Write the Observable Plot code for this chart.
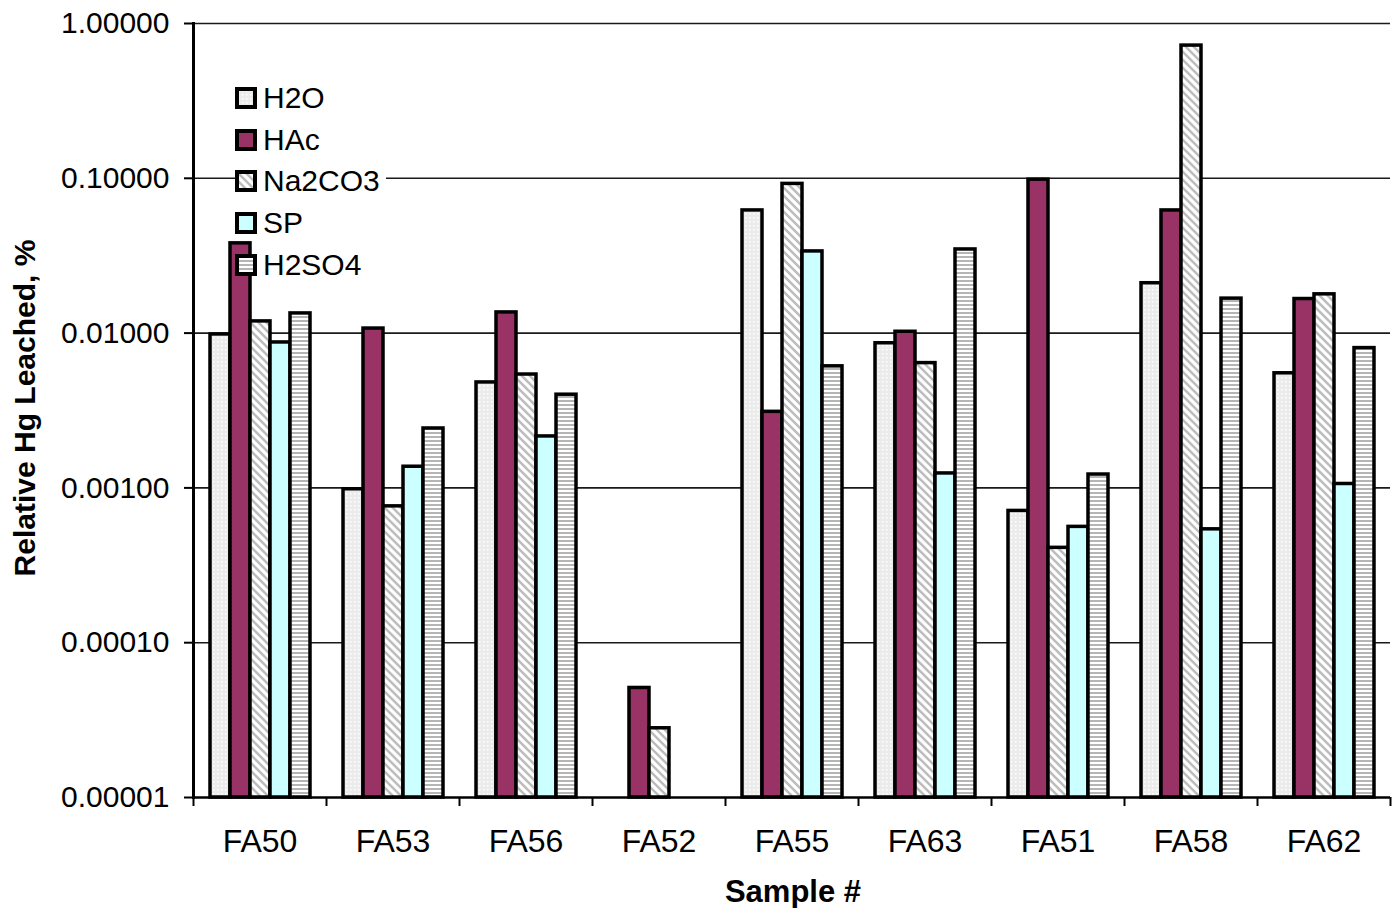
<!DOCTYPE html>
<html>
<head>
<meta charset="utf-8">
<script src="https://cdn.jsdelivr.net/npm/d3@7"></script>
<script src="https://cdn.jsdelivr.net/npm/@observablehq/plot@0.6"></script>
<style>
  body { margin: 0; background: #fff; font-family: "Liberation Sans", Arial, sans-serif; }
  #wrap { position: relative; width: 1393px; height: 908px; overflow: hidden; background: #fff; }
  #wrap > svg.chart { position: absolute; left: 0; top: 0; }
  #legend { position: absolute; left: 237px; top: 77px; }
  #legend .lg-swatches { font-family: "Liberation Sans", Arial, sans-serif; font-size: 30px; color: #000; margin: 0; }
  #legend .lg-swatch { height: 41.75px; display: flex; align-items: center; padding: 0; margin: 0; }
  #legend .lg-swatch svg { overflow: visible; margin-right: 8px; }
  #legend .lg-swatch svg rect { stroke: #000; stroke-width: 4px; }
  #legend .lg-swatch:nth-of-type(3) { background: #fff; padding-right: 6px; }
  .ytitle { position: absolute; left: 25px; top: 408px; transform: translate(-50%, -50%) rotate(-90deg);
            font-weight: bold; font-size: 30px; white-space: nowrap; color: #000; }
  .xtitle { position: absolute; left: 793px; top: 892px; transform: translate(-50%, -50%);
            font-weight: bold; font-size: 31px; white-space: nowrap; color: #000; }
</style>
</head>
<body>
<svg width="0" height="0" style="position:absolute">
  <defs>
    <pattern id="p-h2o" patternUnits="userSpaceOnUse" width="4" height="4">
      <rect width="4" height="4" fill="#ebebeb"/>
      <rect x="1" y="1" width="1.5" height="1.5" fill="#ffffff"/>
    </pattern>
    <pattern id="p-na" patternUnits="userSpaceOnUse" width="8" height="8">
      <rect width="8" height="8" fill="#ffffff"/>
      <path d="M-2,-2L10,10M-2,6L2,10M6,-2L10,2" stroke="#bdbdbd" stroke-width="2.5"/>
    </pattern>
    <pattern id="p-h2so4" patternUnits="userSpaceOnUse" width="4" height="4">
      <rect width="4" height="4" fill="#ffffff"/>
      <rect y="0" width="4" height="2" fill="#b5b5b5"/>
    </pattern>
  </defs>
</svg>
<div id="wrap">
  <div class="ytitle">Relative Hg Leached, %</div>
  <div class="xtitle">Sample #</div>
</div>
<script>
// ---- data ----
const categories = ["FA50", "FA53", "FA56", "FA52", "FA55", "FA63", "FA51", "FA58", "FA62"];
const series = ["H2O", "HAc", "Na2CO3", "SP", "H2SO4"];
const h2o    = [0.0098, 0.00098, 0.0048, null,     0.062,  0.0086, 0.00071, 0.021,   0.0055];
const hac    = [0.038,  0.0107,  0.0136, 0.000051, 0.0031, 0.0102, 0.098,   0.062,   0.0166];
const na2co3 = [0.0119, 0.00076, 0.0054, 0.000028, 0.092,  0.0064, 0.00041, 0.72,    0.0178];
const sp     = [0.0087, 0.00137, 0.00215, null,    0.0337, 0.00124, 0.00056, 0.00054, 0.00106];
const h2so4  = [0.0134, 0.00242, 0.0040, null,     0.0061, 0.0347, 0.00122, 0.0167,  0.0080];
const yTicks = [0.00001, 0.0001, 0.001, 0.01, 0.1, 1];

// ---- styling ----
const fills = ["url(#p-h2o)", "#993366", "url(#p-na)", "#ccffff", "url(#p-h2so4)"];
const W = 1393, H = 908, mL = 193, mR = 3, mT = 23, mB = 111;
const step = (W - mL - mR) / categories.length;

const valuesBySeries = [h2o, hac, na2co3, sp, h2so4];
const rows = categories.flatMap((c, i) =>
  series.map((s, j) => ({cat: c, series: s, value: valuesBySeries[j][i]}))
).filter(d => d.value != null);

const chart = Plot.plot({
  width: W, height: H,
  marginLeft: mL, marginRight: mR, marginTop: mT, marginBottom: mB,
  style: {fontFamily: "'Liberation Sans', Arial, sans-serif", fontSize: "30px", color: "#000", background: "transparent"},
  fx: {domain: categories, padding: 0, label: null},
  x: {domain: series, paddingInner: 0, paddingOuter: 0.667, axis: null},
  y: {type: "log", domain: [yTicks[0], yTicks[yTicks.length - 1]], label: null},
  color: {domain: series, range: fills},
  marks: [
    Plot.gridY(yTicks.slice(1), {stroke: "#1a1a1a", strokeOpacity: 1, strokeWidth: 1.6}),
    Plot.barY(rows, {fx: "cat", x: "series", y1: yTicks[0], y2: "value", fill: "series", stroke: "#000", strokeWidth: 3.5}),
    Plot.ruleY([yTicks[0]], {stroke: "#000", strokeWidth: 2.5}),
    Plot.frame({anchor: "left", facetAnchor: "left", stroke: "#000", strokeWidth: 3}),
    Plot.axisY({ticks: yTicks, tickFormat: d3.format(".5f"), tickSize: 9, tickPadding: 15, fontSize: 30, strokeWidth: 2, label: null}),
    Plot.axisFx({anchor: "bottom", tickSize: 0, tickPadding: 32, fontSize: 32, label: null}),
    Plot.axisFx({anchor: "bottom", tickSize: 9, fill: "none", dx: -step / 2, strokeWidth: 2, label: null}),
    Plot.axisFx({anchor: "bottom", ticks: [categories[categories.length - 1]], tickSize: 9, fill: "none", dx: step / 2, strokeWidth: 2, label: null})
  ]
});
chart.classList.add("chart");
const wrap = document.getElementById("wrap");
wrap.insertBefore(chart, wrap.firstChild);

const legend = Plot.legend({
  color: {domain: series, range: fills},
  legend: "swatches",
  columns: 1,
  swatchSize: 18,
  className: "lg"
});
const legendDiv = document.createElement("div");
legendDiv.id = "legend";
legendDiv.appendChild(legend);
wrap.appendChild(legendDiv);
</script>
</body>
</html>
